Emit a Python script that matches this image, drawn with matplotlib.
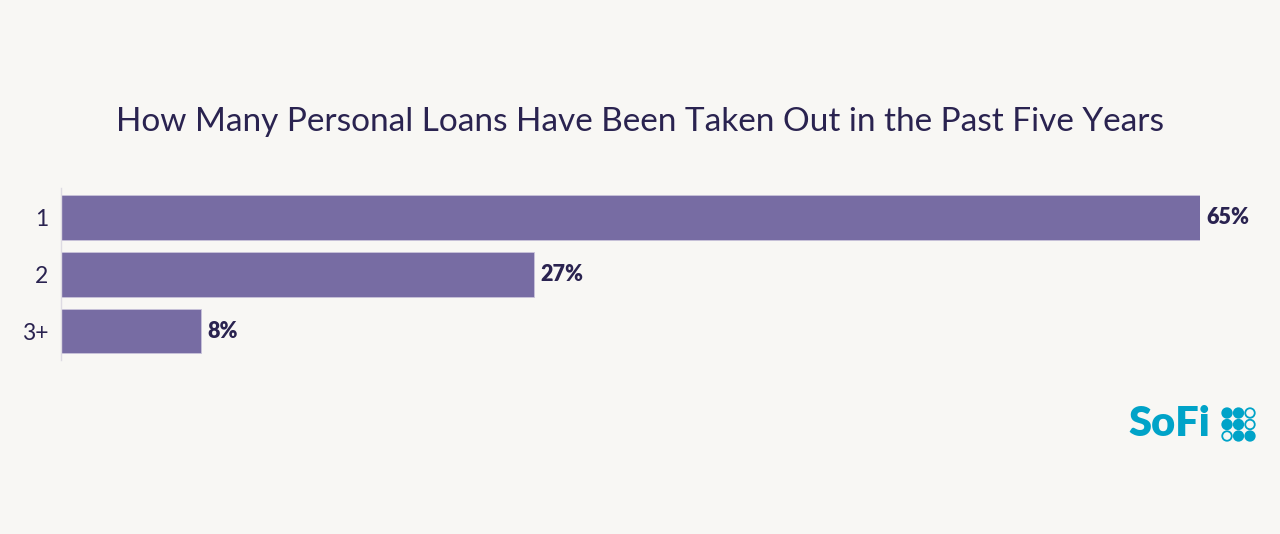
import matplotlib.pyplot as plt
from matplotlib.patches import Ellipse

# 데이터
categories = ["1", "2", "3+"]
values = [65, 27, 8]
value_labels = ["65%", "27%", "8%"]

bg = "#f8f7f4"
bar_clr = "#776ca3"
txt_clr = "#2a2350"

plt.rcParams['font.family'] = ['Lato', 'DejaVu Sans']

fig = plt.figure(figsize=(12.8, 5.34), dpi=100, facecolor=bg)
W, H = 1280, 534
# 축 위치 (픽셀 기준)
left, right, top, bottom = 61, 1200, 188, 360
ax = fig.add_axes([left / W, 1 - bottom / H, (right - left) / W, (bottom - top) / H])
ax.set_facecolor(bg)

ypos = list(range(len(categories)))
ax.barh(ypos, values, height=0.79, color=bar_clr, edgecolor="#c9c4da", linewidth=0.6)
ax.set_xlim(0, 65)
ax.set_ylim(2.51, -0.52)

for y, v, lab in zip(ypos, values, value_labels):
    ax.text(v + 0.35, y, lab, va="center", ha="left", fontsize=15.5, fontweight="heavy",
            color=txt_clr, clip_on=False)

ax.set_yticks(ypos)
ax.set_yticklabels(categories, fontsize=16.5, color=txt_clr)
ax.tick_params(axis="y", length=0, pad=9)
ax.set_xticks([])
for s in ["top", "right", "bottom"]:
    ax.spines[s].set_visible(False)
ax.spines["left"].set_color("#dedbe3")
ax.spines["left"].set_linewidth(1)

fig.text(0.5, 1 - 122 / H, "How Many Personal Loans Have Been Taken Out in the Past Five Years",
         ha="center", va="center", fontsize=24, color=txt_clr)

# 로고
logo_clr = "#00a3c8"
fig.text(1128 / W, 1 - 424 / H, "SoFi", ha="left", va="center", fontsize=30,
         fontweight="heavy", color=logo_clr)
dots = [(0, 0, True), (1, 0, True), (2, 0, False),
        (0, 1, True), (1, 1, True), (2, 1, False),
        (0, 2, False), (1, 2, True), (2, 2, True)]
for cx, cy, filled in dots:
    fig.patches.append(Ellipse(((1227 + cx * 11.5) / W, 1 - (413 + cy * 11.5) / H), 9.5 / W, 9.5 / H,
                               transform=fig.transFigure, facecolor=logo_clr if filled else "none",
                               edgecolor=logo_clr, linewidth=1.3))

fig.savefig("out.png", dpi=100, facecolor=bg)
